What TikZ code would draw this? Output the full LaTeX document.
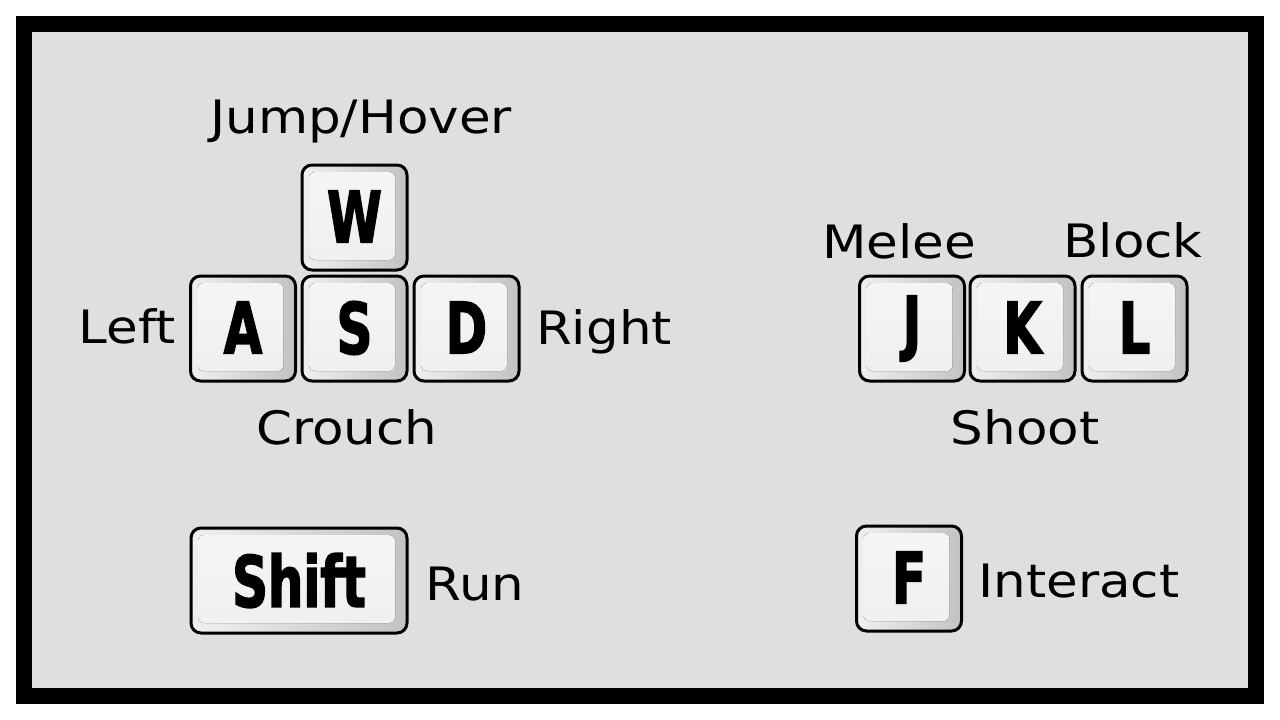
\documentclass[tikz,border=0pt]{standalone}
\usepackage{fontspec}
\setmainfont{DejaVu Sans}[FakeStretch=1.12]
\newfontfamily\keyfont[FakeStretch=0.70,FakeBold=2]{DejaVu Sans Bold}
\definecolor{bggray}{HTML}{DFDFDF}
\definecolor{ringlight}{HTML}{F0F0F0}
\definecolor{ringdark}{HTML}{C2C2C2}
\definecolor{facecol}{HTML}{EFEFEF}
\definecolor{facetop}{HTML}{F5F5F5}
\tikzset{
  keycap/.style={draw=black, line width=3pt, rounded corners=10pt,
    left color=ringlight, right color=ringdark, shading angle=90,
    inner sep=0pt, font=\keyfont\fontsize{71}{71}\selectfont,
    path picture={
      \fill[rounded corners=6pt, top color=facetop, bottom color=facecol]
        ([shift={(7pt,-7pt)}]path picture bounding box.north west)
        rectangle ([shift={(-12pt,10pt)}]path picture bounding box.south east);
    }},
  sqkey/.style={keycap, minimum width=105pt, minimum height=105pt},
  lbl/.style={font=\fontsize{46}{46}\selectfont, anchor=base, inner sep=0pt}
}
\begin{document}
\begin{tikzpicture}[x=1pt,y=-1pt]
\useasboundingbox (0,0) rectangle (1280,720);
\fill[white] (0,0) rectangle (1280,720);
\fill[black] (16,16) rectangle (1264,704);
\fill[bggray] (32,32) rectangle (1248,688);

\node[sqkey] (W) at (354.5,217.5) {\raisebox{2pt}{W}};
\node[sqkey] (A) at (243,328.5) {\raisebox{2pt}{A}};
\node[sqkey] (S) at (354.5,328.5) {\raisebox{2pt}{S}};
\node[sqkey] (D) at (466.5,328.5) {\raisebox{2pt}{D}};
\node[sqkey] (J) at (912,328.5) {\raisebox{2pt}{J}};
\node[sqkey] (K) at (1022.5,328.5) {\raisebox{2pt}{K}};
\node[sqkey] (L) at (1134.5,328.5) {\raisebox{2pt}{L}};
\node[keycap, minimum width=216pt, minimum height=105pt] (Shift) at (299,580.5) {\raisebox{-2pt}{Shift}};
\node[sqkey] (F) at (909,578.5) {\raisebox{2pt}{F}};

\node[lbl] (jump) at (361,133) {Jump/Hover};
\node[lbl] (left) at (127,343) {Left};
\node[lbl] (right) at (604,344) {Right};
\node[lbl] (crouch) at (347,444) {Crouch};
\node[lbl] (melee) at (899,258) {Melee};
\node[lbl] (block) at (1133,257) {Block};
\node[lbl] (shoot) at (1025,444) {Shoot};
\node[lbl] (run) at (475,600) {Run};
\node[lbl] (interact) at (1079,597) {Interact};
\end{tikzpicture}
\end{document}
